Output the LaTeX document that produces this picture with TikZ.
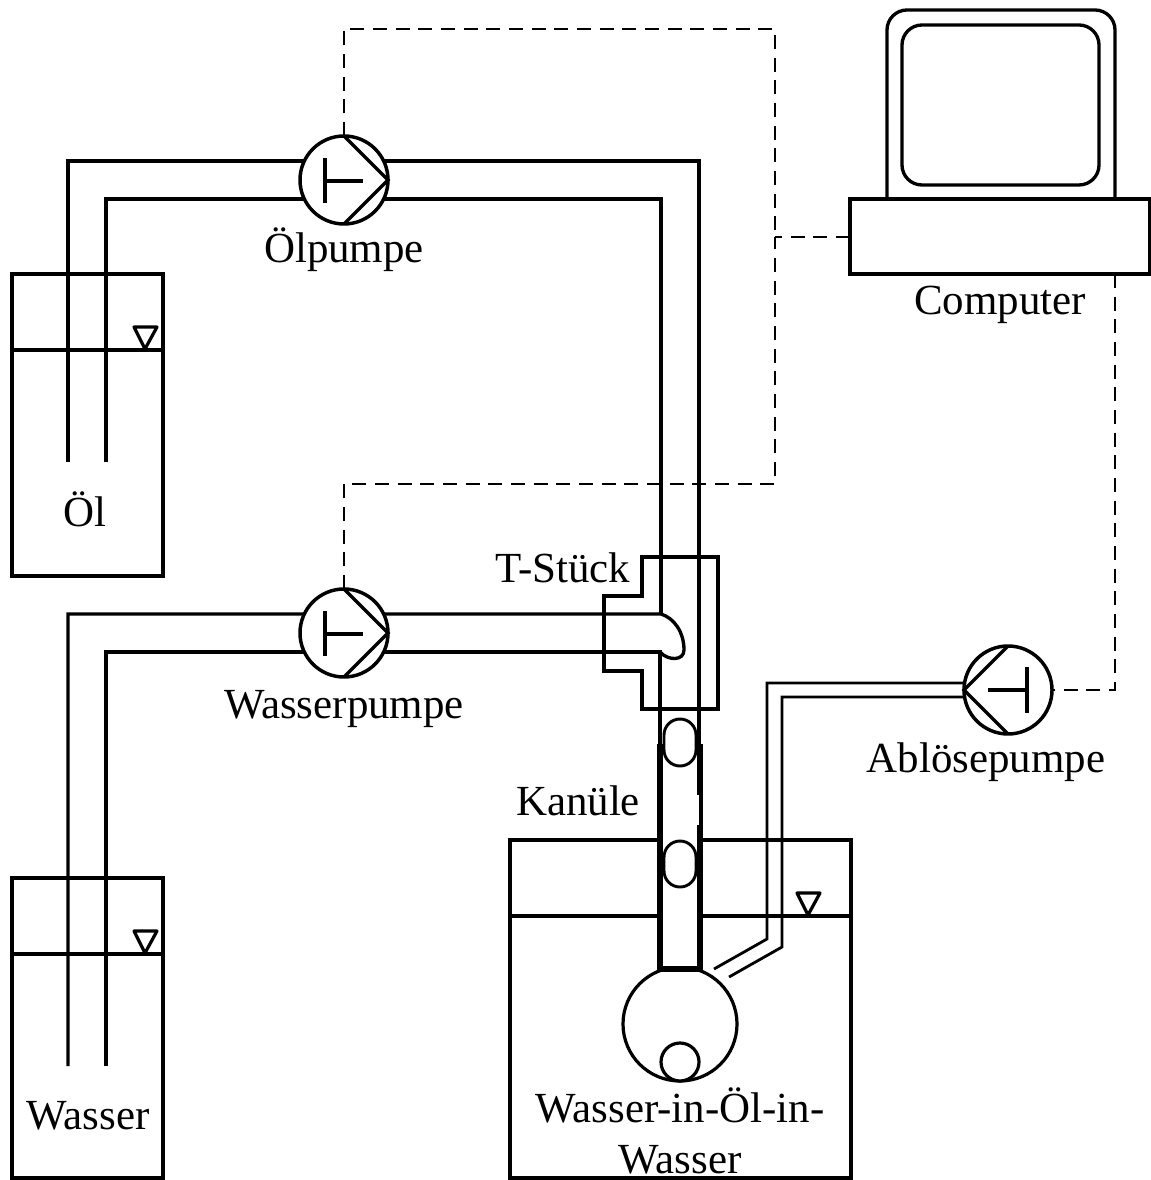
\documentclass[tikz,border=0pt]{standalone}
\usepackage{fontspec}
\setmainfont{Liberation Serif}
\begin{document}
\begin{tikzpicture}[x=0.75pt,y=-0.75pt,line join=miter,
  ln/.style={line width=2.5pt},
  lvl/.style={line width=2.4pt,line join=round},
  thinln/.style={line width=2.1pt},
  ctl/.style={line width=1.4pt,dash pattern=on 10.5pt off 6.5pt},
  pumpnode/.style={circle,draw,fill=white,line width=2.6pt,minimum size=66pt,inner sep=0pt,outer sep=0pt},
  ballnode/.style={circle,draw,fill=white,line width=2.4pt,inner sep=0pt,outer sep=0pt},
  label/.style={font=\fontsize{32.2pt}{38pt}\selectfont,inner sep=0pt,anchor=base},
  drop/.style={draw,line width=2.2pt,fill=white,rounded corners=12pt},
  kan/.style={line width=4.6pt}]
\useasboundingbox (0,0) rectangle (1151,1180);

% pump centres
\coordinate (oilc) at (344,180);
\coordinate (watc) at (344,633);
\coordinate (ablc) at (1008,690);

% tanks
\draw[ln] (12,274) rectangle (163,576);
\draw[ln] (12,350) -- (163,350);
\draw[lvl] (134,327) -- (157,327) -- (145,349) -- cycle;
\draw[ln] (12,878) rectangle (163,1178);
\draw[ln] (12,954) -- (163,954);
\draw[lvl] (134,931) -- (157,931) -- (145,953) -- cycle;
\draw[ln] (510,840) rectangle (851,1178);
\draw[ln] (510,916) -- (851,916);
\draw[lvl] (797,893) -- (820,893) -- (808,915) -- cycle;

% T-piece
\draw[ln] (642,557) -- (718,557) -- (718,709) -- (642,709) -- (642,671) -- (604,671) -- (604,596) -- (642,596) -- cycle;

% pipes
\draw[ln] (68,462) -- (68,161) -- (oilc |- 0,161) -- (699,161) -- (699,745);
\draw[ln] (106,462) -- (106,199) -- (oilc |- 0,199) -- (661,199) -- (661,614);
\draw[ln] (68,1066) -- (68,614) -- (watc |- 0,614) -- (661,614) .. controls (674,618) and (684,632) .. (684,650)
  .. controls (684,661) and (668,661) .. (660,652);
\draw[ln] (106,1066) -- (106,652) -- (watc |- 0,652) -- (660,652) -- (660,745);
\draw[thinln] (ablc |- 0,683) -- (767,683) -- (767,939) -- (714,969);
\draw[thinln] (ablc |- 0,697) -- (782,697) -- (782,947) -- (729,977);

% pumps
\node[pumpnode] (oilp) at (oilc) {};
\node[pumpnode] (watp) at (watc) {};
\node[pumpnode] (ablp) at (ablc) {};
\draw[ln] (oilp.north) -- (oilp.east) -- (oilp.south);
\draw[ln] ([shift={(-19,-22)}]oilp.center) -- ++(0,45);
\draw[ln] ([shift={(-19,1)}]oilp.center) -- ++(38,0);
\draw[ln] (watp.north) -- (watp.east) -- (watp.south);
\draw[ln] ([shift={(-19,-22)}]watp.center) -- ++(0,45);
\draw[ln] ([shift={(-19,1)}]watp.center) -- ++(38,0);
\draw[ln] (ablp.north) -- (ablp.west) -- (ablp.south);
\draw[ln] ([shift={(19,-23)}]ablp.center) -- ++(0,46);
\draw[ln] ([shift={(19,0)}]ablp.center) -- ++(-39,0);

% sphere
\node[ballnode,minimum size=85.5pt] (sph) at (680,1024) {};
\node[ballnode,minimum size=28.5pt] (dropc) at (680,1062) {};

% cannula
\fill[white] (660,744) rectangle (700,969);
\draw[kan] (660,744) -- (660,969);
\draw[kan] (700,744) -- (700,969);
\draw[kan] (657,969) -- (703,969);
\draw[white,line width=0.9pt] (698,795) -- (698,825);

% droplets
\draw[drop] (664,719) rectangle (696,766);
\draw[drop] (664,841) rectangle (696,887);

% computer
\draw[ln,rounded corners=15pt] (887,199) -- (887,10) -- (1115,10) -- (1115,199);
\draw[ln,rounded corners=15pt] (902,25) rectangle (1099,185);
\node[draw,line width=2.5pt,fill=white,minimum width=225pt,minimum height=56.25pt,inner sep=0pt,outer sep=0pt] (base) at (1000,236.5) {};

% control lines
\coordinate (ctlA) at (775,237);
\draw[ctl] (oilp.north) -- (344,29) -- (775,29) -- (ctlA);
\draw[ctl] (base.west |- ctlA) -- (ctlA);
\draw[ctl] (watp.north) -- (344,484) -- (775,484) -- (ctlA);
\draw[ctl,line width=1.7pt] (1115,274) -- (1115,690) -- (ablp.east);

% labels
\node[label] (l1) at (344,263) {Ölpumpe};
\node[label] (l2) at (1000,315) {Computer};
\node[label] (l3) at (85,526) {Öl};
\node[label] (l4) at (344,718) {Wasserpumpe};
\node[label] (l5) at (563,582) {T-Stück};
\node[label] (l6) at (986,772) {Ablösepumpe};
\node[label] (l7) at (578,815) {Kanüle};
\node[label] (l8) at (88,1129) {Wasser};
\node[label] (l9) at (680,1122) {Wasser-in-Öl-in-};
\node[label] (l10) at (680,1173) {Wasser};
\end{tikzpicture}
\end{document}
